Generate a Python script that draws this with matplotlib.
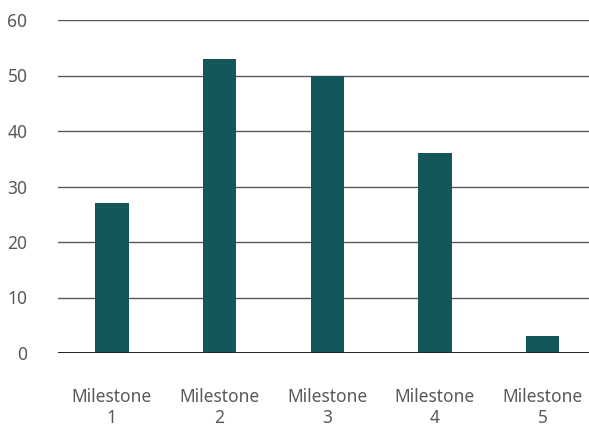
import matplotlib
matplotlib.use("Agg")
import matplotlib.pyplot as plt

categories = ["Milestone\n1", "Milestone\n2", "Milestone\n3", "Milestone\n4", "Milestone\n5"]
values = [27, 53, 50, 36, 3]
yticks = [0, 10, 20, 30, 40, 50, 60]

plt.rcParams['font.family'] = ['Noto Sans', 'DejaVu Sans']

fig = plt.figure(figsize=(5.89, 4.26), dpi=100)
ax = fig.add_axes([58 / 589, 73 / 426, 1 - 58 / 589, 333 / 426])

x = range(len(categories))
ax.bar(x, values, width=0.31, color="#15565b", zorder=3)

ax.set_ylim(0, 60)
ax.set_xlim(-0.5, 4.43)
ax.set_yticks(yticks)
ax.set_xticks(list(x))
ax.set_xticklabels(categories, fontsize=12.5, color="#595959", linespacing=1.2)
ax.tick_params(axis="y", labelsize=12.5, labelcolor="#595959", length=0, pad=22)
ax.tick_params(axis="x", length=0, pad=25)

ax.grid(axis="y", color="#595959", linewidth=1, zorder=0)
ax.axhline(0, color="#222222", linewidth=1.4, zorder=4)
for s in ax.spines.values():
    s.set_visible(False)

fig.savefig("out.png", dpi=100)
